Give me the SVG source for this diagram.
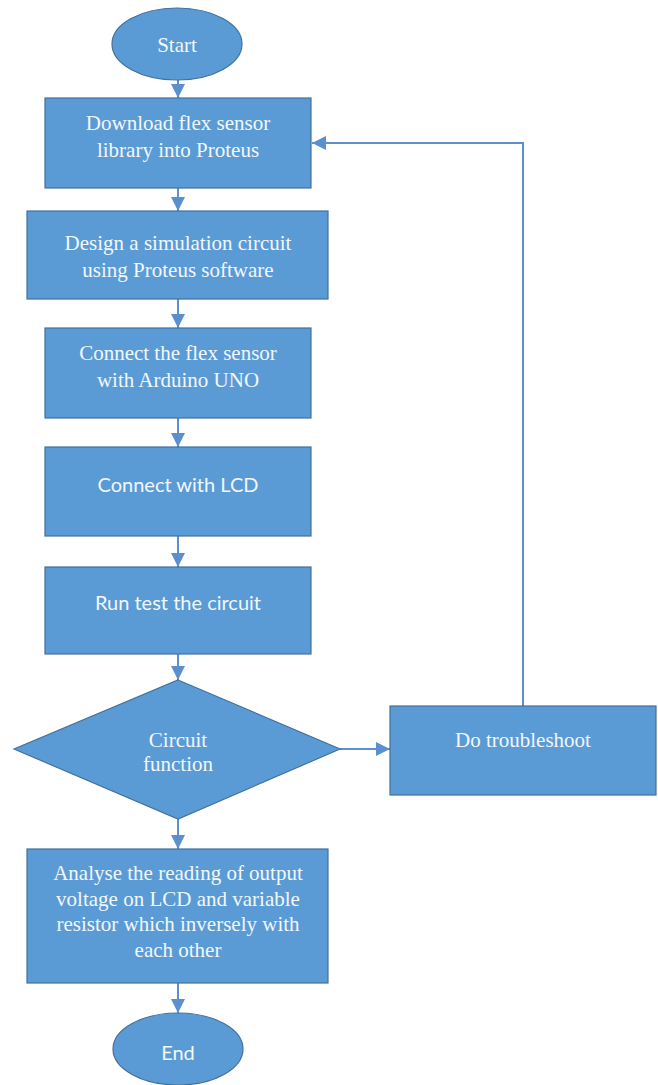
<svg xmlns="http://www.w3.org/2000/svg" width="658" height="1085" viewBox="0 0 658 1085">
<defs>
<marker id="ah" markerUnits="userSpaceOnUse" markerWidth="14" markerHeight="14" refX="14" refY="7" orient="auto">
<path d="M0,0 L14,7 L0,14 Z" fill="#5b8fcd"/>
</marker>
<style>
.shape{fill:#5b9bd5;stroke:#41719c;stroke-width:1.2}
.conn{fill:none;stroke:#5b8fcd;stroke-width:2}
.serif{font-family:"Liberation Serif","Times New Roman",serif;font-size:21px;fill:#f2f7fc;text-anchor:middle}
.sans{font-family:Lato,"Open Sans",sans-serif;font-size:20px;fill:#f2f7fc;text-anchor:middle}
</style>
</defs>
<rect width="658" height="1085" fill="#ffffff"/>
<g id="connectors">
<line class="conn" x1="178" y1="80" x2="178" y2="98" marker-end="url(#ah)"/>
<line class="conn" x1="178" y1="188" x2="178" y2="211" marker-end="url(#ah)"/>
<line class="conn" x1="178" y1="299" x2="178" y2="328" marker-end="url(#ah)"/>
<line class="conn" x1="178" y1="418" x2="178" y2="447" marker-end="url(#ah)"/>
<line class="conn" x1="178" y1="536" x2="178" y2="567" marker-end="url(#ah)"/>
<line class="conn" x1="178" y1="654" x2="178" y2="680" marker-end="url(#ah)"/>
<line class="conn" x1="178" y1="819" x2="178" y2="849" marker-end="url(#ah)"/>
<line class="conn" x1="178" y1="983" x2="178" y2="1013" marker-end="url(#ah)"/>
<line class="conn" x1="340" y1="749" x2="390" y2="749" marker-end="url(#ah)"/>
<polyline class="conn" points="523,706 523,143 312,143" marker-end="url(#ah)"/>
</g>
<g id="start">
<ellipse class="shape" cx="177" cy="44" rx="65" ry="36"/>
<text class="serif" x="177" y="52">Start</text>
</g>
<g id="download">
<rect class="shape" x="45" y="98" width="266" height="90"/>
<text class="serif" x="178" y="130">Download flex sensor</text>
<text class="serif" x="178" y="157">library into Proteus</text>
</g>
<g id="design">
<rect class="shape" x="27" y="211" width="301" height="88"/>
<text class="serif" x="178" y="250">Design a simulation circuit</text>
<text class="serif" x="178" y="277">using Proteus software</text>
</g>
<g id="connect-sensor">
<rect class="shape" x="45" y="328" width="266" height="90"/>
<text class="serif" x="178" y="360">Connect the flex sensor</text>
<text class="serif" x="178" y="387">with Arduino UNO</text>
</g>
<g id="connect-lcd">
<rect class="shape" x="45" y="447" width="266" height="89"/>
<text class="sans" x="178" y="492">Connect with LCD</text>
</g>
<g id="run-test">
<rect class="shape" x="45" y="567" width="266" height="87"/>
<text class="sans" x="178" y="610">Run test the circuit</text>
</g>
<g id="decision">
<polygon class="shape" points="178,680 340,749 178,819 14,749"/>
<text class="serif" x="178" y="747">Circuit</text>
<text class="serif" x="178" y="771">function</text>
</g>
<g id="troubleshoot">
<rect class="shape" x="390" y="706" width="266" height="89"/>
<text class="serif" x="523" y="747">Do troubleshoot</text>
</g>
<g id="analyse">
<rect class="shape" x="27" y="849" width="301" height="134"/>
<text class="serif" x="178" y="880">Analyse the reading of output</text>
<text class="serif" x="178" y="906">voltage on LCD and variable</text>
<text class="serif" x="178" y="931">resistor which inversely with</text>
<text class="serif" x="178" y="957">each other</text>
</g>
<g id="end">
<ellipse class="shape" cx="178" cy="1049" rx="65" ry="36"/>
<text class="sans" x="178" y="1060">End</text>
</g>
</svg>
